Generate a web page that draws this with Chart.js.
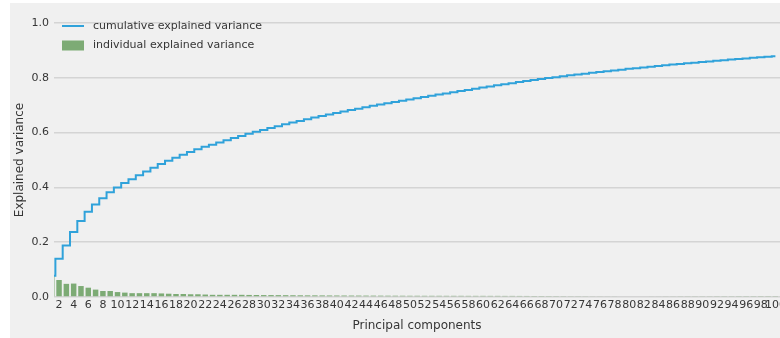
<!DOCTYPE html>
<html>
<head>
<meta charset="utf-8">
<script src="https://cdn.jsdelivr.net/npm/chart.js@4/dist/chart.umd.min.js"></script>
<style>
  html, body { margin: 0; padding: 0; background: #ffffff; }
  #wrap { position: absolute; left: 10px; top: 3px; width: 770px; height: 335px; background: #f0f0f0; }
</style>
</head>
<body>
<div id="wrap"><canvas id="pca"></canvas></div>
<script>
// Principal component index (1..100)
const components = Array.from({ length: 100 }, (_, i) => i + 1);

// Explained variance ratio of each principal component
const individualVariance = [
  0.078, 0.062, 0.048, 0.049, 0.040, 0.034, 0.027, 0.022, 0.022, 0.018,
  0.016, 0.014, 0.014, 0.014, 0.014, 0.013, 0.012, 0.011, 0.011, 0.010,
  0.010, 0.009, 0.008, 0.008, 0.008, 0.008, 0.008, 0.0075, 0.0072, 0.0070,
  0.0070, 0.0068, 0.0066, 0.0064, 0.0062, 0.0060, 0.0060, 0.0058, 0.0056, 0.0055,
  0.0054, 0.0053, 0.0052, 0.0051, 0.0050, 0.0049, 0.0048, 0.0047, 0.0046, 0.0045,
  0.0045, 0.0044, 0.0044, 0.0044, 0.0043, 0.0043, 0.0043, 0.0042, 0.0042, 0.0042,
  0.0041, 0.0041, 0.0040, 0.0040, 0.0039, 0.0038, 0.0037, 0.0036, 0.0035, 0.0034,
  0.0033, 0.0032, 0.0032, 0.0031, 0.0030, 0.0030, 0.0029, 0.0029, 0.0028, 0.0028,
  0.0027, 0.0027, 0.0026, 0.0026, 0.0025, 0.0025, 0.0024, 0.0024, 0.0023, 0.0023,
  0.0023, 0.0022, 0.0022, 0.0022, 0.0021, 0.0021, 0.0021, 0.0020, 0.0020, 0.0020
];

// Running total of the explained variance
const cumulativeVariance = [];
individualVariance.reduce((acc, v) => { const s = acc + v; cumulativeVariance.push(s); return s; }, 0);

// Axis ticks
const xTickValues = Array.from({ length: 50 }, (_, i) => 2 * (i + 1));
const yTickValues = [0, 0.2, 0.4, 0.6, 0.8, 1.0];

const TEXT = '#363636';
const FONT = '"DejaVu Sans", sans-serif';

// Legend drawn inside the plot, upper left, stacked vertically
const insideLegend = {
  id: 'insideLegend',
  afterDraw(chart) {
    const ctx = chart.ctx;
    const items = [
      { label: chart.data.datasets[0].label, kind: 'line', color: chart.data.datasets[0].borderColor },
      { label: chart.data.datasets[1].label, kind: 'box', color: chart.data.datasets[1].backgroundColor }
    ];
    ctx.save();
    ctx.font = '11px ' + FONT;
    ctx.textBaseline = 'middle';
    ctx.textAlign = 'left';
    items.forEach((it, i) => {
      const cy = 23 + i * 19.5;
      if (it.kind === 'line') {
        ctx.strokeStyle = it.color;
        ctx.lineWidth = 2;
        ctx.beginPath();
        ctx.moveTo(52, cy);
        ctx.lineTo(74, cy);
        ctx.stroke();
      } else {
        ctx.fillStyle = it.color;
        ctx.fillRect(52, cy - 5, 22, 10);
      }
      ctx.fillStyle = TEXT;
      ctx.fillText(it.label, 83, cy);
    });
    ctx.restore();
  }
};

new Chart(document.getElementById('pca'), {
  type: 'bar',
  data: {
    datasets: [
      {
        type: 'line',
        label: 'cumulative explained variance',
        data: components.map((c, i) => ({ x: c, y: cumulativeVariance[i] })),
        borderColor: '#30a2da',
        borderWidth: 2,
        pointRadius: 0,
        stepped: 'middle',
        fill: false,
        order: 0
      },
      {
        type: 'bar',
        label: 'individual explained variance',
        data: components.map((c, i) => ({ x: c, y: individualVariance[i] })),
        backgroundColor: '#7dab75',
        borderWidth: 0,
        barPercentage: 0.75,
        categoryPercentage: 1.0,
        order: 1
      }
    ]
  },
  options: {
    responsive: true,
    maintainAspectRatio: false,
    animation: false,
    layout: { padding: { top: 20, left: 0, right: 0, bottom: 0 } },
    plugins: { legend: { display: false }, tooltip: { enabled: false } },
    scales: {
      x: {
        type: 'linear',
        offset: false,
        min: 1.31,
        max: 100.63,
        grid: { display: false, drawTicks: false },
        border: { display: false },
        ticks: {
          autoSkip: false,
          maxRotation: 0,
          minRotation: 0,
          padding: 2,
          color: TEXT,
          font: { family: FONT, size: 11 },
          callback: v => String(v)
        },
        title: {
          display: true,
          text: 'Principal components',
          color: TEXT,
          font: { family: FONT, size: 12 },
          padding: { top: 0, bottom: 5 }
        },
        afterBuildTicks: s => { s.ticks = xTickValues.map(v => ({ value: v })); },
        afterFit: s => { s.height = 41; s.paddingLeft = 0; s.paddingRight = 0; }
      },
      y: {
        min: 0,
        max: 1.0,
        grid: { color: '#d4d4d4', lineWidth: 1.5, drawTicks: false },
        border: { display: false },
        ticks: {
          padding: 5,
          color: TEXT,
          font: { family: FONT, size: 11 },
          callback: v => Number(v).toFixed(1)
        },
        title: {
          display: true,
          text: 'Explained variance',
          color: TEXT,
          font: { family: FONT, size: 12 },
          padding: { top: 3, bottom: 0 }
        },
        afterBuildTicks: s => { s.ticks = yTickValues.map(v => ({ value: v })); },
        afterFit: s => { s.width = 44; s.paddingTop = 0; s.paddingBottom = 0; }
      }
    }
  },
  plugins: [insideLegend]
});
</script>
</body>
</html>
